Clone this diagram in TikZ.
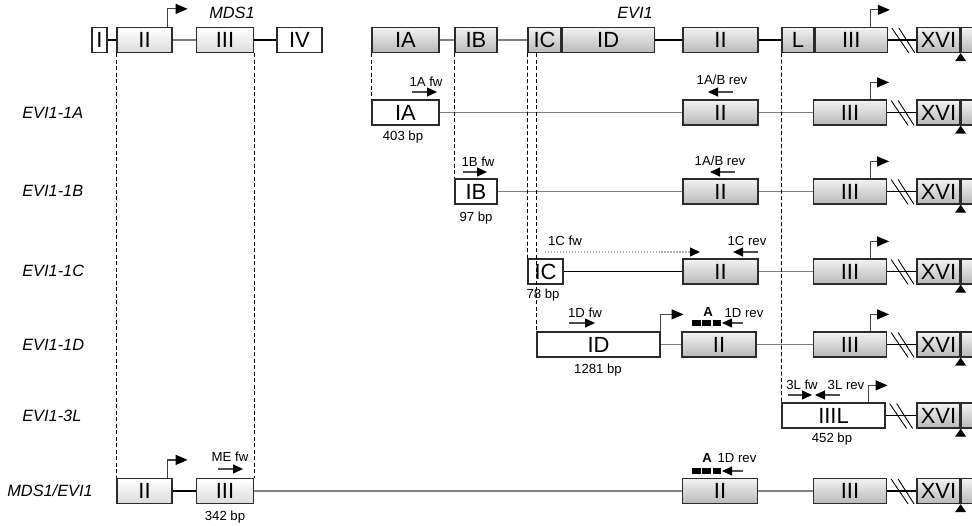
\documentclass[tikz,border=0pt]{standalone}
\usepackage{fontspec}
\setmainfont{Liberation Sans}
\usepackage{tikz}
\usetikzlibrary{arrows.meta,calc}
\definecolor{intron}{HTML}{808080}
\definecolor{edge}{HTML}{2B2B2B}

\begin{document}
\begin{tikzpicture}[
 x=0.02cm, y=-0.02cm,
 exon/.style={draw=edge,line width=0.7pt,minimum height=5mm,inner sep=0pt,font=\fontsize{12.5}{13}\selectfont},
 exg/.style={exon,top color=gray!10,bottom color=gray!55},
 exm/.style={exon,top color=white,bottom color=gray!28},
 exw/.style={exon,fill=white},
 intr/.style={draw=intron,line width=1.1pt},
 link/.style={draw=black,line width=0.7pt},
 guide/.style={draw=black,line width=0.45pt,dash pattern=on 0.8mm off 0.5mm},
 tss/.style={draw=black!75,line width=0.7pt,-{Triangle[length=2.4mm,width=2mm,color=black]}},
 pr/.style={draw=black!70,line width=0.7pt,-{Triangle[length=2mm,width=1.8mm,color=black]}},
 plab/.style={font=\fontsize{7.5}{8}\selectfont,inner sep=0pt},
 rowlab/.style={font=\fontsize{9.3}{10}\selectfont\itshape,anchor=west,inner sep=0pt},
 gene/.style={font=\fontsize{9.3}{10}\selectfont\itshape,inner sep=0pt},
 site/.style={line width=1.2mm,dash pattern=on 1.75mm off 0.3mm}
]
\useasboundingbox (0,0) rectangle (972,526);

% genomic layout
\node[gene] (mdsname) at (232,13) {MDS1};
\node[gene] (eviname) at (635,13) {EVI1};
\node[exw,minimum width=3mm] (mdsI) at (99.5,40) {I};
\node[exm,minimum width=11mm] (mdsII) at (144.5,40) {II};
\node[exm,minimum width=11.4mm] (mdsIII) at (225,40) {III};
\node[exw,minimum width=9mm] (mdsIV) at (299.5,40) {IV};
\node[exg,minimum width=13.4mm] (tIA) at (405.5,40) {IA};
\node[exg,minimum width=8.4mm] (tIB) at (476,40) {IB};
\node[exg,minimum width=6.6mm] (tIC) at (544.5,40) {IC};
\node[exg,minimum width=18.4mm,anchor=west] (tID) at (tIC.east) {ID};
\node[exg,minimum width=15mm] (t2) at (720.5,40) {II};
\node[exg,minimum width=6.4mm] (tL) at (798,40) {L};
\node[exg,minimum width=14.4mm,anchor=west] (t3) at (tL.east) {III};
\draw[link] (mdsI) -- (mdsII); \draw[intr] (mdsII) -- (mdsIII); \draw[link] (mdsIII) -- (mdsIV);
\draw[intr] (tIA) -- (tIB); \draw[intr] (tIB) -- (tIC); \draw[link] (tID) -- (t2); \draw[link] (t2) -- (tL);
\draw[tss] ([xshift=-1mm]mdsII.north east) -- ++(0,-18) -- ++(20,0);

% EVI1-1A
\node[rowlab] (la) at (22,113) {EVI1-1A};
\node[exw,minimum width=13.4mm] (a1) at (405.5,112.5) {IA};
\node[exg,minimum width=15mm] (a2) at (720.5,112.5) {II};
\node[exg,minimum width=14.6mm] (a3) at (850,112.5) {III};
\draw[intr] (a1) -- (a2); \draw[intr] (a2) -- (a3);
\node[plab] (pa1) at (426,82) {1A fw}; \draw[pr] (412,92) -- (437,92);
\node[plab] (pa2) at (722,80) {1A/B rev}; \draw[pr] (733,92) -- (708,92);
\node[plab] (sa) at (403,137) {403 bp};

% EVI1-1B
\node[rowlab] (lb) at (22,191) {EVI1-1B};
\node[exw,minimum width=8.4mm] (b1) at (476,191.5) {IB};
\node[exg,minimum width=15mm] (b2) at (720.5,191.5) {II};
\node[exg,minimum width=14.6mm] (b3) at (850,191.5) {III};
\draw[intr] (b1) -- (b2); \draw[intr] (b2) -- (b3);
\node[plab] (pb1) at (478,162) {1B fw}; \draw[pr] (463,172) -- (487,172);
\node[plab] (pb2) at (720,161) {1A/B rev}; \draw[pr] (735,172) -- (710,172);
\node[plab] (sb) at (476,218) {97 bp};

% EVI1-1C
\node[rowlab] (lc) at (22,271) {EVI1-1C};
\node[exw,minimum width=7mm] (c1) at (545.5,271.5) {IC};
\node[exg,minimum width=15mm] (c2) at (720.5,271.5) {II};
\node[exg,minimum width=14.6mm] (c3) at (850,271.5) {III};
\draw[link] (c1) -- (c2); \draw[intr] (c2) -- (c3);
\node[plab] (pc1) at (565,241) {1C fw}; \draw[pr,draw=gray!60,densely dotted] (545,252) -- (700,252);
\node[plab] (pc2) at (747,241) {1C rev}; \draw[pr] (758,252) -- (733,252);
\node[plab] (sc) at (543,295) {78 bp};

% EVI1-1D
\node[rowlab] (ld) at (22,345) {EVI1-1D};
\node[exw,minimum width=24.6mm] (d1) at (598.5,344.5) {ID};
\node[exg,minimum width=14.8mm] (d2) at (719,344.5) {II};
\node[exg,minimum width=14.6mm] (d3) at (850,344.5) {III};
\draw[intr] (d1) -- (d2); \draw[intr] (d2) -- (d3);
\draw[tss] (d1.north east) -- ++(0,-17) -- ++(23,0);
\node[plab] (pd1) at (585,313) {1D fw}; \draw[pr] (569,323) -- (595,323);
\node[plab,font=\fontsize{7.5}{8}\selectfont\bfseries] (ad) at (708,312) {A};
\draw[site] (692,323) -- (721,323);
\node[plab] (pd2) at (744,313) {1D rev}; \draw[pr] (743,323) -- (722,323);
\node[plab] (sd) at (598,370) {1281 bp};

% EVI1-3L
\node[rowlab] (ll) at (22,416) {EVI1-3L};
\node[exw,minimum width=20.6mm] (l3) at (833.5,415.5) {IIIL};
\node[plab] (pl1) at (802,385) {3L fw}; \draw[pr] (788,395) -- (812,395);
\node[plab] (pl2) at (846,385) {3L rev}; \draw[pr] (840,395) -- (815,395);
\node[plab] (sl) at (832,439) {452 bp};

% MDS1/EVI1
\node[rowlab] (lm) at (7,491) {MDS1/EVI1};
\node[exm,minimum width=11mm] (mII) at (144.5,491) {II};
\node[exm,minimum width=11.4mm] (mIII) at (225,491) {III};
\node[exg,minimum width=15mm] (m2) at (720,491) {II};
\node[exg,minimum width=14.6mm] (m3) at (850,491) {III};
\draw[link] (mII) -- (mIII); \draw[intr] (mIII) -- (m2); \draw[intr] (m2) -- (m3);
\draw[tss] ([xshift=-1mm]mII.north east) -- ++(0,-18) -- ++(20,0);
\node[plab] (pm1) at (230,457) {ME fw}; \draw[pr] (218,469) -- (243,469);
\node[plab] (sm) at (225,517) {342 bp};
\node[plab,font=\fontsize{7.5}{8}\selectfont\bfseries] (am) at (707,458) {A};
\draw[site] (692,471) -- (721,471);
\node[plab] (pm2) at (737,458) {1D rev}; \draw[pr] (743,471) -- (722,471);

% exon boundaries
\draw[guide] (mdsII.south west) -- (mII.north west);
\draw[guide] (mdsIII.south east) -- (mIII.north east);
\draw[guide] (tIA.south west) -- (a1.north west);
\draw[guide] (tIB.south west) -- (b1.north west);
\draw[guide] (tIC.south west) -- (c1.north west);
\draw[guide] (d1.north west |- tIC.south) -- (d1.north west);
\draw[guide] (tL.south west) -- (l3.north west);

% shared 3' part
\foreach \r/\y in {t/40,a/112.5,b/191.5,c/271.5,d/344.5,l/415.5,m/491}{
  \node[exg,minimum width=8.6mm] (\r16) at (938.5,\y) {XVI};
  \node[exg,minimum width=5mm,anchor=west] (\r17) at (\r16.east) {};
  \draw[link] (\r3.east) -- (\r16.west);
  \draw[link,line width=0.5pt] ([xshift=0.8mm,yshift=2.4mm]\r3.east) -- ++(17,25);
  \draw[link,line width=0.5pt] ([xshift=2.2mm,yshift=2.4mm]\r3.east) -- ++(16,25);
  \fill (\r16.south east) -- ++(-5.5,8) -- ++(11,0) -- cycle;
}
\foreach \r in {t,a,b,c,d,l}
  \draw[tss] ([xshift=-3.4mm]\r3.north east) -- ++(0,-17) -- ++(19,0);
\end{tikzpicture}
\end{document}
